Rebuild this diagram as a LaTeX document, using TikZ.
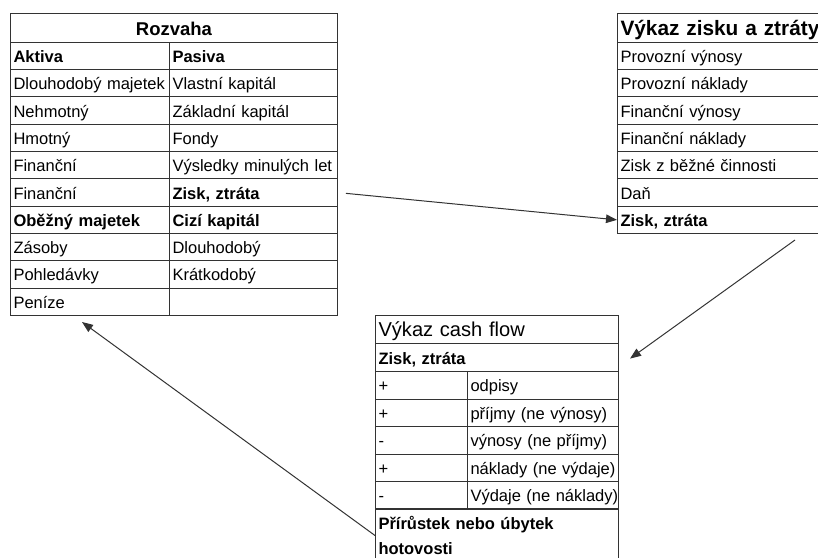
\documentclass[tikz,border=0pt]{standalone}
\usepackage{fontspec}
\setmainfont{Liberation Sans}
\usetikzlibrary{arrows.meta}
\begin{document}
\begin{tikzpicture}[x=1pt,y=-1pt,
  every node/.style={font=\fontsize{16.5}{20}\selectfont},
  box/.style={draw=black!80, line width=1pt, rectangle, anchor=north west,
    inner xsep=3pt, inner ysep=0pt, align=left},
  cell/.style={box, minimum height=27.33pt, text height=16pt, text depth=3pt},
  b/.style={font=\fontsize{16.5}{20}\selectfont\bfseries},
  wA/.style={text width=153pt},
  wB/.style={text width=162pt},
  wR/.style={text width=207pt},
  wF/.style={text width=237pt},
  wC/.style={text width=86pt},
  wD/.style={text width=145pt},
  cf/.style={cell, minimum height=27.5pt},
  arr/.style={draw=black!80, line width=1pt, -{Triangle[length=11pt,width=8.5pt]}}
]
\useasboundingbox (0,0) rectangle (818,557);
\clip (0,0) rectangle (818,557);

% Rozvaha
\node[cell, text width=321pt, align=center, minimum height=28.4pt, text height=17pt,
  font=\fontsize{18.5}{22}\selectfont\bfseries] (rh) at (10,13.3) {Rozvaha};
\node[cell,wA,b] (a0) at (10,41.7) {Aktiva};
\node[cell,wB,b] (p0) at (169,41.7) {Pasiva};
\node[cell,wA] (a1) at (10,69.0) {\mbox{Dlouhodobý majetek}};
\node[cell,wB] (p1) at (169,69.0) {Vlastní kapitál};
\node[cell,wA] (a2) at (10,96.4) {Nehmotný};
\node[cell,wB] (p2) at (169,96.4) {Základní kapitál};
\node[cell,wA] (a3) at (10,123.7) {Hmotný};
\node[cell,wB] (p3) at (169,123.7) {Fondy};
\node[cell,wA] (a4) at (10,151.0) {Finanční};
\node[cell,wB] (p4) at (169,151.0) {\mbox{Výsledky minulých let}};
\node[cell,wA] (a5) at (10,178.4) {Finanční};
\node[cell,wB,b] (lz) at (169,178.4) {Zisk, ztráta};
\node[cell,wA,b] (a6) at (10,205.7) {Oběžný majetek};
\node[cell,wB,b] (p6) at (169,205.7) {Cizí kapitál};
\node[cell,wA] (a7) at (10,233.0) {Zásoby};
\node[cell,wB] (p7) at (169,233.0) {Dlouhodobý};
\node[cell,wA] (a8) at (10,260.3) {Pohledávky};
\node[cell,wB] (p8) at (169,260.3) {Krátkodobý};
\node[cell,wA] (a9) at (10,287.7) {Peníze};
\node[cell,wB] (p9) at (169,287.7) {};

% Vykaz zisku a ztraty
\node[cell,wR, minimum height=28.4pt, text height=19pt, text depth=4pt,
  font=\fontsize{20.8}{24}\selectfont\bfseries] (vh) at (617,13.3) {\mbox{Výkaz zisku a ztráty}};
\node[cell,wR] (v1) at (617,41.7) {Provozní výnosy};
\node[cell,wR] (v2) at (617,69.0) {Provozní náklady};
\node[cell,wR] (v3) at (617,96.4) {Finanční výnosy};
\node[cell,wR] (v4) at (617,123.7) {Finanční náklady};
\node[cell,wR] (v5) at (617,151.0) {Zisk z běžné činnosti};
\node[cell,wR] (v6) at (617,178.4) {Daň};
\node[cell,wR,b] (rz) at (617,205.7) {Zisk, ztráta};

% Vykaz cash flow
\node[cf,wF, minimum height=28pt, text height=18.5pt, text depth=4pt,
  font=\fontsize{20.1}{24}\selectfont] (ch) at (375,315) {Výkaz cash flow};
\node[cf,wF,b, minimum height=28pt] (cfz) at (375,343) {Zisk, ztráta};
\node[cf,wC] (s1) at (375,371) {+};
\node[cf,wD] (t1) at (467,371) {odpisy};
\node[cf,wC] (s2) at (375,398.5) {+};
\node[cf,wD] (t2) at (467,398.5) {\mbox{příjmy (ne výnosy)}};
\node[cf,wC] (s3) at (375,426) {-};
\node[cf,wD] (t3) at (467,426) {\mbox{výnosy (ne příjmy)}};
\node[cf,wC] (s4) at (375,453.5) {+};
\node[cf,wD] (t4) at (467,453.5) {\mbox{náklady (ne výdaje)}};
\node[cf,wC] (s5) at (375,481) {-};
\node[cf,wD] (t5) at (467,481) {\mbox{Výdaje (ne náklady)}};
\node[box,wF, minimum height=54pt,
  font=\fontsize{16.5}{24.5}\selectfont\bfseries] (cfp) at (375,508)
  {Přírůstek nebo úbytek\\hotovosti};

% connectors
\coordinate (e2) at (795,240);
\coordinate (e3) at (82,322);
\draw[arr, shorten <=8pt] (lz.east) -- (rz.west);
\draw[arr, shorten >=13.6pt] (e2) -- ([yshift=-9pt]cfz.east);
\draw[arr] (cfp.west) -- (e3);
\end{tikzpicture}
\end{document}
